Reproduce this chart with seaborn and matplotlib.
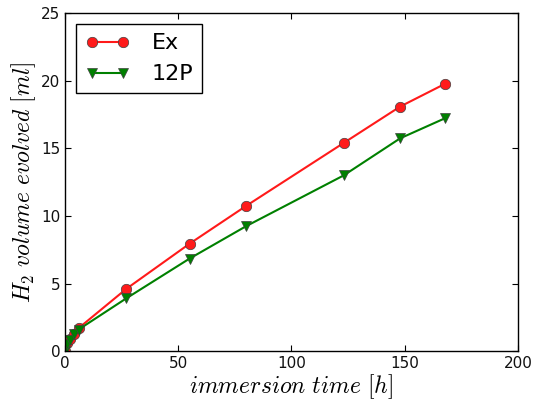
import matplotlib
matplotlib.use("Agg")
import matplotlib.pyplot as plt
import seaborn as sns
import pandas as pd

time_ex = [0, 1, 2, 4, 6, 27, 55, 80, 123, 148, 168]
vol_ex = [0, 0.6, 0.9, 1.3, 1.7, 4.6, 7.95, 10.75, 15.4, 18.1, 19.8]
time_12p = [0, 1, 2, 4, 6, 27, 55, 80, 123, 148, 168]
vol_12p = [0, 0.5, 0.8, 1.3, 1.6, 3.9, 6.85, 9.25, 13.0, 15.75, 17.25]
series_names = ["Ex", "12P"]

df = pd.concat([
    pd.DataFrame({"t": time_ex, "v": vol_ex, "sample": series_names[0]}),
    pd.DataFrame({"t": time_12p, "v": vol_12p, "sample": series_names[1]}),
])

sns.set_style("ticks")
plt.rcParams["mathtext.fontset"] = "cm"
plt.rcParams["font.family"] = ["DejaVu Sans"]
plt.rcParams["text.color"] = "black"
plt.rcParams["axes.labelcolor"] = "black"

fig, ax = plt.subplots(figsize=(5.35, 4.05), dpi=100)
fig.subplots_adjust(left=0.1215, right=0.968, top=0.967, bottom=0.133)

sns.lineplot(data=df, x="t", y="v", hue="sample", style="sample",
             palette={"Ex": "#ff1a1a", "12P": "#008000"},
             markers={"Ex": "o", "12P": "v"}, dashes=False,
             markersize=7.5, linewidth=1.5, markeredgecolor="#404040",
             markeredgewidth=0.5, ax=ax, sort=False)

ax.set_xlim(0, 200)
ax.set_ylim(0, 25)
ax.set_xticks([0, 50, 100, 150, 200])
ax.set_yticks([0, 5, 10, 15, 20, 25])
ax.tick_params(direction="in", top=True, right=True, labelsize=11, length=4,
               labelcolor="#111111", color="black")
for s in ax.spines.values():
    s.set_visible(True)
    s.set_color("black")
    s.set_linewidth(1.0)

ax.set_xlabel(r"$immersion\ time\ [h]$", fontsize=17, labelpad=1)
ax.set_ylabel(r"$H_2\ volume\ evolved\ [ml]$", fontsize=17, labelpad=2)

leg = ax.legend(loc="upper left", fontsize=16, frameon=True, fancybox=False,
                handlelength=2.0, handletextpad=1.0, borderpad=0.4,
                labelspacing=0.5, borderaxespad=0.5, numpoints=2)
leg.get_frame().set_edgecolor("black")
leg.get_frame().set_linewidth(1.0)
leg.get_frame().set_alpha(1)
leg.set_title(None)
for t in leg.get_texts():
    t.set_color("black")

fig.savefig("out.png", dpi=100)
